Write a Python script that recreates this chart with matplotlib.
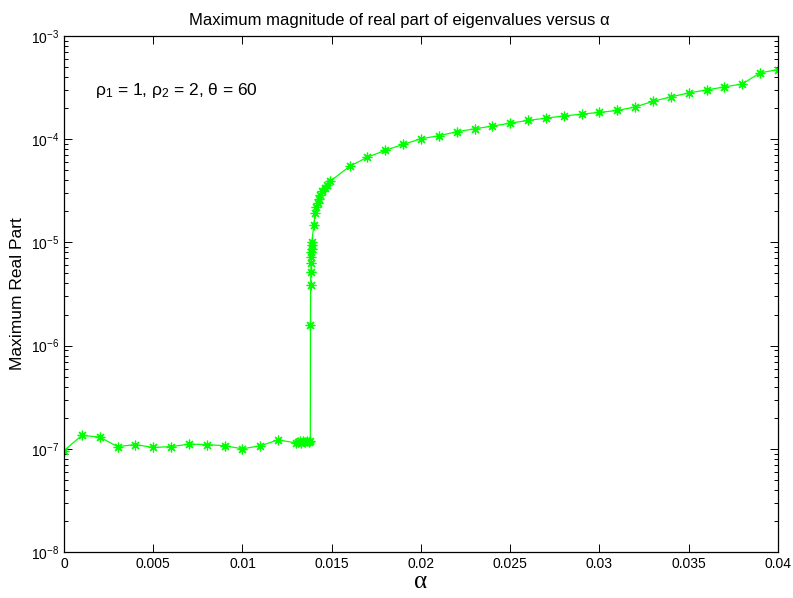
import matplotlib
matplotlib.use("Agg")
import matplotlib.pyplot as plt
from matplotlib.ticker import LogLocator, NullFormatter

plt.rcParams["font.family"] = ["Liberation Sans", "DejaVu Sans"]
plt.rcParams["mathtext.fontset"] = "custom"
plt.rcParams["mathtext.rm"] = "Liberation Sans"
plt.rcParams["mathtext.it"] = "Liberation Sans"

# plateau before the jump
alpha_low = [0.0, 0.001, 0.002, 0.003, 0.004, 0.005, 0.006, 0.007, 0.008,
             0.009, 0.010, 0.011, 0.012, 0.013, 0.0131, 0.0132, 0.0133,
             0.0134, 0.0135, 0.0136, 0.0137, 0.0138]
real_low = [9.6e-8, 1.35e-7, 1.30e-7, 1.05e-7, 1.10e-7, 1.03e-7, 1.05e-7,
            1.11e-7, 1.10e-7, 1.07e-7, 1.00e-7, 1.07e-7, 1.22e-7, 1.14e-7,
            1.16e-7, 1.18e-7, 1.15e-7, 1.19e-7, 1.17e-7, 1.20e-7, 1.16e-7,
            1.18e-7]

# jump and fast rise
alpha_jump = [0.01381, 0.01382, 0.01383, 0.01384, 0.01385, 0.01386, 0.01387,
              0.01388, 0.01389, 0.0140, 0.01406, 0.01414, 0.01421, 0.01429,
              0.01437, 0.01448, 0.01461, 0.01474, 0.0149]
real_jump = [1.6e-6, 3.85e-6, 5.2e-6, 6.25e-6, 7.25e-6, 8.1e-6, 8.7e-6,
             9.4e-6, 1.02e-5, 1.48e-5, 1.92e-5, 2.18e-5, 2.40e-5, 2.62e-5,
             2.85e-5, 3.12e-5, 3.36e-5, 3.62e-5, 3.9e-5]

# slow growth afterwards
alpha_high = [0.016, 0.017, 0.018, 0.019, 0.020, 0.021, 0.022, 0.023, 0.024,
              0.025, 0.026, 0.027, 0.028, 0.029, 0.030, 0.031, 0.032, 0.033,
              0.034, 0.035, 0.036, 0.037, 0.038, 0.039, 0.040]
real_high = [5.45e-5, 6.7e-5, 7.8e-5, 8.9e-5, 1.01e-4, 1.08e-4, 1.18e-4,
             1.26e-4, 1.34e-4, 1.43e-4, 1.52e-4, 1.60e-4, 1.68e-4, 1.75e-4,
             1.82e-4, 1.90e-4, 2.05e-4, 2.33e-4, 2.57e-4, 2.81e-4, 3.0e-4,
             3.21e-4, 3.43e-4, 4.39e-4, 4.73e-4]

alpha = alpha_low + alpha_jump + alpha_high
real_part = real_low + real_jump + real_high

xticks = [0, 0.005, 0.01, 0.015, 0.02, 0.025, 0.03, 0.035, 0.04]
xticklabels = ["0", "0.005", "0.01", "0.015", "0.02", "0.025", "0.03",
               "0.035", "0.04"]

fig = plt.figure(figsize=(7.93, 5.98), dpi=100)
ax = fig.add_axes([0.0807, 0.0769, 0.9003, 0.8629])

# MATLAB-style '*' marker: 8-armed asterisk
ax.semilogy(alpha, real_part, color=(0, 1, 0), linewidth=0.9,
            marker=(8, 2, 0), markersize=7, markeredgewidth=0.9)

ax.set_xlim(0, 0.04)
ax.set_ylim(1e-8, 1e-3)
ax.set_xticks(xticks)
ax.set_xticklabels(xticklabels)
ax.yaxis.set_major_locator(LogLocator(base=10, numticks=10))
ax.yaxis.set_minor_locator(LogLocator(base=10, subs=range(2, 10), numticks=10))
ax.yaxis.set_minor_formatter(NullFormatter())

ax.tick_params(which="both", direction="in", top=True, right=True,
               labelsize=10, width=0.7)
ax.tick_params(which="major", length=6)
ax.tick_params(which="minor", length=3)
for s in ax.spines.values():
    s.set_linewidth(0.9)

ax.set_title("Maximum magnitude of real part of eigenvalues versus α",
             fontsize=12, pad=8, x=0.47)
ax.set_ylabel("Maximum Real Part", fontsize=12.5, labelpad=4)
ax.set_xlabel("α", fontsize=18, family=["Liberation Serif", "DejaVu Serif"],
              labelpad=0)

ax.text(0.043, 0.895, r"ρ$_1$ = 1, ρ$_2$ = 2, θ = 60", transform=ax.transAxes,
        fontsize=12.5, va="center", ha="left")

fig.savefig("out.png", dpi=100)
